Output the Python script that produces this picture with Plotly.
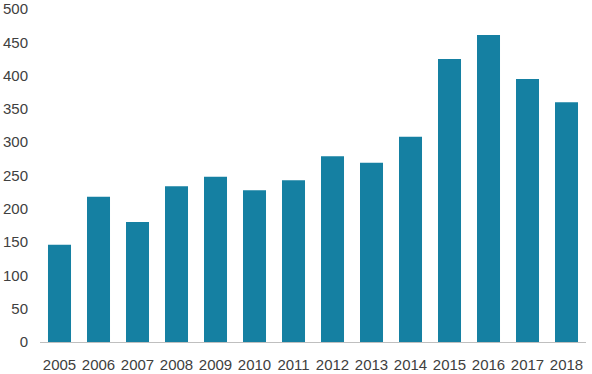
import plotly.graph_objects as go

years = ["2005", "2006", "2007", "2008", "2009", "2010", "2011",
         "2012", "2013", "2014", "2015", "2016", "2017", "2018"]
values = [146, 218, 180, 234, 248, 228, 243, 279, 269, 308, 425, 461, 395, 360]
y_ticks = [0, 50, 100, 150, 200, 250, 300, 350, 400, 450, 500]

fig = go.Figure(go.Bar(x=years, y=values, marker_color="#1580A2",
                       marker_line_width=0))

fig.update_layout(
    width=592, height=374,
    margin=dict(l=40, r=6, t=9, b=32),
    plot_bgcolor="white", paper_bgcolor="white",
    bargap=0.41,
    showlegend=False,
    font=dict(family="Liberation Sans, Arial, sans-serif", size=15, color="#404040"),
)
fig.update_xaxes(type="category", showline=True, linecolor="#BFBFBF", linewidth=1,
                 ticks="outside", ticklen=9, tickcolor="rgba(0,0,0,0)",
                 showgrid=False, tickfont=dict(size=15), automargin=False)
fig.update_yaxes(range=[0, 500], tickvals=y_ticks, showgrid=False, zeroline=False,
                 showline=False, ticks="outside", ticklen=8, tickcolor="rgba(0,0,0,0)",
                 tickfont=dict(size=15), automargin=False)

fig.write_html("out.html")
